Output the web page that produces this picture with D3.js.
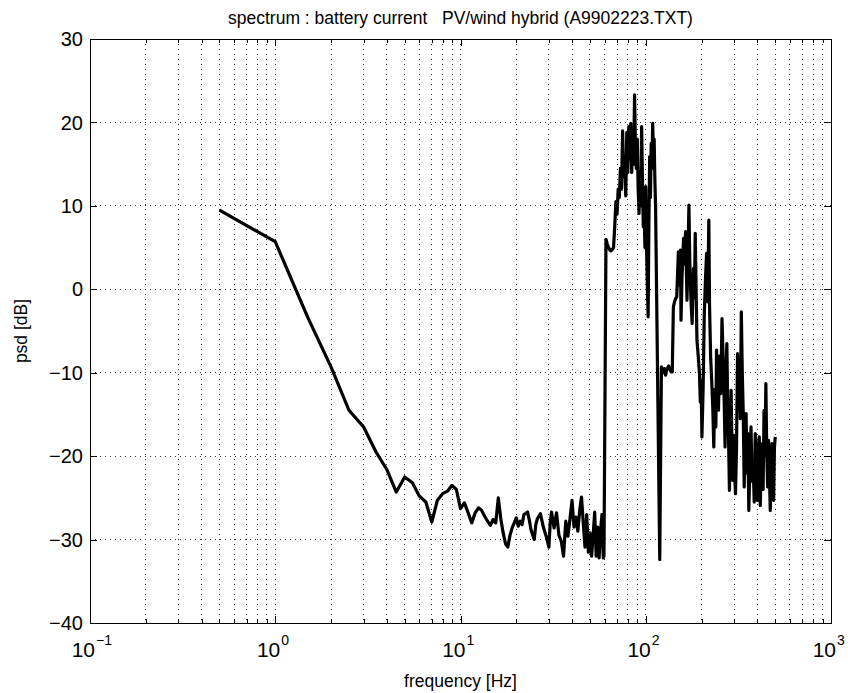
<!DOCTYPE html>
<html>
<head>
<meta charset="utf-8">
<script src="https://cdn.jsdelivr.net/npm/d3@7/dist/d3.min.js"></script>
<style>
  html, body { margin: 0; padding: 0; background: #fff; }
  svg { display: block; font-family: "Liberation Sans", Arial, Helvetica, sans-serif; }
</style>
</head>
<body>
<div id="chart"></div>
<script>
// Values
const titleText = "spectrum : battery current   PV/wind hybrid (A9902223.TXT)";
const xLabel = "frequency [Hz]";
const yLabel = "psd [dB]";

const xDecades = [-1, 0, 1, 2, 3];            // 10^-1 .. 10^3
const yTicks = [-40, -30, -20, -10, 0, 10, 20, 30];

const freqHz = [
  0.5, 1.0, 1.5, 2.0, 2.5, 3.0, 3.5, 4.0, 4.5, 5.0, 5.5, 6.0, 6.5, 7.0, 7.5, 8.0, 8.5, 9.0, 9.5,
  10.0, 10.5, 11.0, 11.5, 12.0, 12.5, 13.0, 13.5, 14.0, 14.5, 15.0, 15.5, 16.0, 16.5, 17.0, 17.5,
  18.0, 18.5, 19.0, 19.5, 20.0, 20.5, 21.0, 21.5, 22.0, 23.0, 23.5, 24.0, 25.0, 25.5, 26.0, 27.0,
  28.0, 29.0, 30.0, 30.5, 31.0, 32.0, 33.0, 34.0, 35.0, 36.0, 37.0, 38.0, 39.0, 40.0, 41.0, 42.0,
  43.0, 44.0, 45.0, 46.0, 47.0, 48.0, 49.0, 50.0, 51.0, 52.0, 53.0, 54.0, 55.0, 56.0, 57.0, 58.0,
  59.0, 59.5, 61.0, 62.0, 63.0, 64.0, 65.0, 66.0, 67.0, 68.0, 69.0, 70.0, 71.0, 72.0, 73.0, 74.0,
  75.0, 76.0, 77.0, 78.0, 79.0, 80.0, 81.0, 82.0, 83.0, 84.0, 85.0, 86.0, 87.0, 88.0, 89.0, 90.0,
  91.0, 92.0, 93.0, 94.0, 95.0, 96.0, 97.0, 98.0, 99.0, 100.0, 101.0, 102.0, 103.0, 104.0, 105.0,
  106.0, 107.0, 108.0, 109.0, 110.0, 111.0, 112.0, 113.0, 119.0, 121.5, 124, 126, 128, 130, 133,
  137, 139, 141, 143, 145, 147, 150, 152, 154, 155, 157, 160, 162, 164, 167, 169, 171, 173, 174,
  176, 178, 181, 183, 185, 187, 189, 192, 195, 197, 199, 201, 204, 207, 210, 213, 216, 219, 221,
  224, 227, 230, 233, 236, 239, 241, 244, 247, 250, 254, 258, 262, 265, 268, 271, 274, 277, 280,
  283, 286, 289, 292, 295, 298, 301, 305, 309, 313, 316, 320, 324, 328, 332, 336, 340, 344, 348,
  352, 356, 360, 365, 370, 375, 380, 385, 390, 395, 400, 405, 410, 415, 420, 425, 430, 435, 440,
  445, 450, 455, 460, 465, 470, 475, 480, 485, 490, 495, 500
];

const psdDb = [
  9.5, 5.7, -3.4, -9.3, -14.5, -16.5, -19.5, -21.6, -24.3, -22.5, -23.2, -24.8, -25.5, -27.9, -25.3, -24.5, -24.2, -23.5, -24.0,
  -26.3, -25.6, -26.8, -28.0, -26.8, -26.2, -26.5, -27.2, -27.8, -28.3, -27.6, -28.0, -25.0, -27.5, -29.2, -30.5,
  -30.9, -29.5, -28.6, -28.0, -27.4, -28.4, -27.8, -28.2, -27.0, -26.7, -27.6, -28.8, -30.0, -28.2, -27.5, -26.9,
  -28.5, -29.6, -30.9, -28.0, -26.7, -28.6, -26.8, -29.5, -30.2, -32.0, -27.8, -29.6, -27.5, -25.3, -28.5, -27.3,
  -29.0, -26.5, -24.9, -28.0, -30.9, -27.0, -31.5, -29.2, -32.0, -29.5, -26.7, -32.0, -28.5, -32.2, -29.0, -27.0,
  -32.2, -32.0, 6.0, 5.4, 5.0, 4.7, 4.6, 4.8, 5.0, 7.5, 10.5, 9.0, 12.0, 11.0, 14.5, 12.0,
  19.0, 13.5, 15.0, 11.2, 18.8, 14.0, 19.5, 15.5, 19.9, 14.0, 17.5, 15.0, 23.3, 17.0, 14.5, 18.0,
  12.0, 9.1, 14.0, 10.0, 19.5, 13.0, 7.5, 9.5, 5.0, 12.3, 5.0, 0.5, -3.3, 8.0, 15.9,
  11.0, 17.5, 14.5, 19.9, 16.0, 18.0, 13.1, 10.0, -32.4, -9.3, -10.0, -9.5, -10.3, -9.6, -9.2,
  -9.9, -9.9, -2.1, -1.5, -1.1, -0.9, 4.5, 0.5, 4.7, -3.7, 1.5, 6.1, 3.0, 6.9, -1.3, 4.0, 10.1, 3.0, 1.1,
  -2.0, -4.1, 2.5, -1.0, 6.7, 0.0, -6.1, -8.0, -10.1, -13.5, -11.0, -17.7, -12.0, -3.0, 1.1, 4.3, -1.5, 8.3, -2.0,
  -8.1, -11.0, -14.1, -18.9, -12.0, -16.5, -7.3, -10.0, -14.5, -8.0, -12.5, -3.5, -9.0, -13.3, -18.9, -10.0, -6.5, -14.0, -18.1,
  -24.1, -16.0, -12.1, -19.0, -22.9, -17.5, -21.0, -24.5, -19.0, -7.7, -13.0, -9.3, -15.5, -2.7, -10.0, -14.9, -23.7, -18.0, -14.9,
  -22.0, -17.3, -26.5, -21.0, -16.5, -23.0, -20.9, -25.5, -17.3, -22.0, -25.3, -19.0, -17.7, -25.9, -21.5, -18.5, -24.0, -14.5, -20.0,
  -11.3, -19.5, -23.7, -18.1, -22.0, -26.5, -20.0, -18.5, -24.0, -25.3, -19.0, -17.7
];

function draw() {
  const W = 848, H = 693;
  const margin = { top: 39, right: 17, bottom: 70, left: 90 };
  const width = W - margin.left - margin.right;
  const height = H - margin.top - margin.bottom;

  const svg = d3.select("#chart")
    .append("svg")
    .attr("width", W)
    .attr("height", H);

  const g = svg.append("g")
    .attr("transform", `translate(${margin.left}, ${margin.top})`);

  const xScale = d3.scaleLog()
    .domain([Math.pow(10, xDecades[0]), Math.pow(10, xDecades[xDecades.length - 1])])
    .range([0, width]);

  const yScale = d3.scaleLinear()
    .domain([yTicks[0], yTicks[yTicks.length - 1]])
    .range([height, 0]);

  const majorX = xDecades.map(e => Math.pow(10, e));
  const minorX = [];
  xDecades.slice(0, -1).forEach(e => {
    for (let k = 2; k <= 9; k++) minorX.push(k * Math.pow(10, e));
  });
  const allX = majorX.concat(minorX);

  // dotted grid
  const grid = g.append("g").attr("class", "grid");
  grid.selectAll("line.vx")
    .data(allX.filter(v => v > majorX[0] && v < majorX[majorX.length - 1]))
    .join("line")
    .attr("x1", d => xScale(d)).attr("x2", d => xScale(d))
    .attr("y1", 0).attr("y2", height)
    .attr("stroke", "#333")
    .attr("stroke-width", 1)
    .attr("stroke-dasharray", "1 4")
    .attr("shape-rendering", "crispEdges");

  grid.selectAll("line.hy")
    .data(yTicks.slice(1, -1))
    .join("line")
    .attr("x1", 0).attr("x2", width)
    .attr("y1", d => yScale(d)).attr("y2", d => yScale(d))
    .attr("stroke", "#333")
    .attr("stroke-width", 1)
    .attr("stroke-dasharray", "1 4")
    .attr("shape-rendering", "crispEdges");

  // ticks, inside the box, on all four sides
  const tickStyle = sel => {
    sel.select(".domain").remove();
    sel.selectAll(".tick line").attr("stroke", "#000").attr("shape-rendering", "crispEdges");
  };
  g.append("g").attr("transform", `translate(0, ${height})`)
    .call(d3.axisBottom(xScale).tickValues(majorX).tickSize(-7).tickFormat(""))
    .call(tickStyle);
  g.append("g").attr("transform", `translate(0, ${height})`)
    .call(d3.axisBottom(xScale).tickValues(minorX).tickSize(-4).tickFormat(""))
    .call(tickStyle);
  g.append("g")
    .call(d3.axisTop(xScale).tickValues(majorX).tickSize(-7).tickFormat(""))
    .call(tickStyle);
  g.append("g")
    .call(d3.axisTop(xScale).tickValues(minorX).tickSize(-4).tickFormat(""))
    .call(tickStyle);
  g.append("g")
    .call(d3.axisLeft(yScale).tickValues(yTicks).tickSize(-7).tickFormat(""))
    .call(tickStyle);
  g.append("g").attr("transform", `translate(${width}, 0)`)
    .call(d3.axisRight(yScale).tickValues(yTicks).tickSize(-7).tickFormat(""))
    .call(tickStyle);

  // frame
  g.append("rect")
    .attr("x", 0).attr("y", 0)
    .attr("width", width).attr("height", height)
    .attr("fill", "none")
    .attr("stroke", "#000")
    .attr("stroke-width", 1)
    .attr("shape-rendering", "crispEdges");

  // y tick labels
  g.append("g").selectAll("text")
    .data(yTicks)
    .join("text")
    .attr("x", -7)
    .attr("y", d => yScale(d))
    .attr("dy", "0.36em")
    .attr("text-anchor", "end")
    .attr("font-size", 20)
    .text(d => d < 0 ? "\u2212" + Math.abs(d) : d);

  // x tick labels: 10 with superscript exponent, the pair centred on the tick
  const xl = g.append("g").selectAll("g")
    .data(xDecades)
    .join("g")
    .attr("transform", d => `translate(${xScale(Math.pow(10, d))}, ${height + 34})`);
  xl.append("text")
    .attr("x", 5)
    .attr("text-anchor", "end")
    .attr("font-size", 21)
    .text("10");
  xl.append("text")
    .attr("x", 6)
    .attr("y", -12)
    .attr("font-size", 14)
    .text(d => d < 0 ? "\u2212" + Math.abs(d) : d);

  // the spectrum line
  const line = d3.line()
    .x((d, i) => xScale(freqHz[i]))
    .y(d => yScale(d));

  g.append("path")
    .datum(psdDb)
    .attr("fill", "none")
    .attr("stroke", "#000")
    .attr("stroke-width", 3.2)
    .attr("stroke-linejoin", "round")
    .attr("d", line);

  // title and axis labels
  svg.append("text")
    .attr("x", margin.left + width / 2)
    .attr("y", 24)
    .attr("text-anchor", "middle")
    .attr("font-size", 17.5)
    .style("white-space", "pre")
    .text(titleText);

  svg.append("text")
    .attr("x", margin.left + width / 2)
    .attr("y", 687)
    .attr("text-anchor", "middle")
    .attr("font-size", 17.5)
    .text(xLabel);

  svg.append("text")
    .attr("transform", `translate(27, ${margin.top + height / 2}) rotate(-90)`)
    .attr("text-anchor", "middle")
    .attr("font-size", 17.5)
    .text(yLabel);
}

draw();
</script>
</body>
</html>
